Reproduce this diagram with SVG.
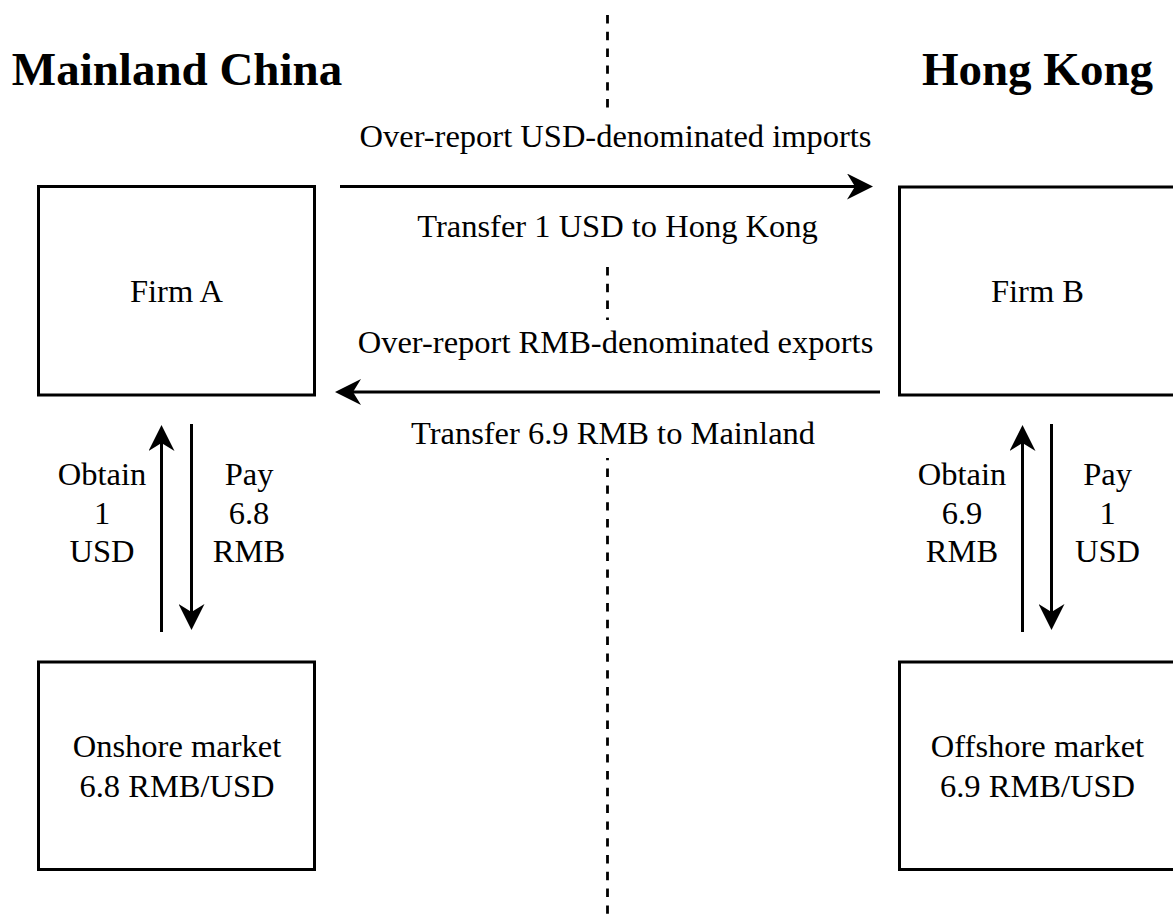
<svg xmlns="http://www.w3.org/2000/svg" width="1173" height="916" viewBox="0 0 1173 916">
  <style>
    .box { fill: #ffffff; stroke: #000000; stroke-width: 3; }
    .lbl { font-family: "Liberation Serif", "Times New Roman", serif; font-size: 32.5px; fill: #000000; text-anchor: middle; }
    .title { font-family: "Liberation Serif", "Times New Roman", serif; font-size: 47px; font-weight: bold; fill: #000000; text-anchor: middle; }
    .edge { fill: none; stroke: #000000; stroke-width: 3; }
    .divider { fill: none; stroke: #000000; stroke-width: 2.8; stroke-dasharray: 8.4 8.4; }
    .labelbg { fill: #ffffff; stroke: none; }
  </style>
  <defs>
    <marker id="arrow" viewBox="0 0 26 26" markerWidth="26" markerHeight="26" refX="8" refY="13" orient="auto" markerUnits="userSpaceOnUse">
      <path d="M0,0 L26,13 L0,26 L8,13 Z" fill="#000000"/>
    </marker>
  </defs>

  <rect width="1173" height="916" fill="#ffffff"/>

  <!-- border between the two regions -->
  <g id="divider">
    <line class="divider" x1="607.5" y1="15" x2="607.5" y2="916"/>
  </g>

  <!-- region titles -->
  <g id="titles">
    <text class="title" x="177" y="85">Mainland China</text>
    <text class="title" x="1037.5" y="85">Hong Kong</text>
  </g>

  <!-- connectors -->
  <g id="connectors">
    <!-- cross-border flow labels sit on white backgrounds over the divider -->
    <rect class="labelbg" x="340" y="114" width="533" height="145"/>
    <rect class="labelbg" x="336" y="320" width="544" height="138"/>

    <path class="edge" d="M340,186.5 L855,186.5" marker-end="url(#arrow)"/>
    <text class="lbl" x="615.5" y="147">Over-report USD-denominated imports</text>
    <text class="lbl" x="617.5" y="237">Transfer 1 USD to Hong Kong</text>

    <path class="edge" d="M880,392 L353,392" marker-end="url(#arrow)"/>
    <text class="lbl" x="615.5" y="353">Over-report RMB-denominated exports</text>
    <text class="lbl" x="613" y="444">Transfer 6.9 RMB to Mainland</text>

    <!-- mainland side: firm A and onshore market -->
    <path class="edge" d="M161.5,632 L161.5,443" marker-end="url(#arrow)"/>
    <path class="edge" d="M191.5,424 L191.5,612" marker-end="url(#arrow)"/>
    <text class="lbl" x="102" y="485">Obtain</text>
    <text class="lbl" x="102" y="523.5">1</text>
    <text class="lbl" x="102" y="562">USD</text>
    <text class="lbl" x="249" y="485">Pay</text>
    <text class="lbl" x="249" y="523.5">6.8</text>
    <text class="lbl" x="249" y="562">RMB</text>

    <!-- Hong Kong side: firm B and offshore market -->
    <path class="edge" d="M1022.5,632 L1022.5,443" marker-end="url(#arrow)"/>
    <path class="edge" d="M1051.5,424 L1051.5,612" marker-end="url(#arrow)"/>
    <text class="lbl" x="962" y="485">Obtain</text>
    <text class="lbl" x="962" y="523.5">6.9</text>
    <text class="lbl" x="962" y="562">RMB</text>
    <text class="lbl" x="1107.5" y="485">Pay</text>
    <text class="lbl" x="1107.5" y="523.5">1</text>
    <text class="lbl" x="1107.5" y="562">USD</text>
  </g>

  <g id="firm-a">
    <rect class="box" x="38.5" y="186.5" width="276" height="208.5"/>
    <text class="lbl" x="176.5" y="302">Firm A</text>
  </g>

  <g id="firm-b">
    <rect class="box" x="899.5" y="187" width="276" height="208"/>
    <text class="lbl" x="1037.5" y="302">Firm B</text>
  </g>

  <g id="onshore-market">
    <rect class="box" x="38.5" y="662" width="276" height="207.5"/>
    <text class="lbl" x="177" y="757">Onshore market</text>
    <text class="lbl" x="177" y="797">6.8 RMB/USD</text>
  </g>

  <g id="offshore-market">
    <rect class="box" x="899.5" y="662" width="276" height="207.5"/>
    <text class="lbl" x="1037.5" y="757">Offshore market</text>
    <text class="lbl" x="1037.5" y="797">6.9 RMB/USD</text>
  </g>
</svg>
